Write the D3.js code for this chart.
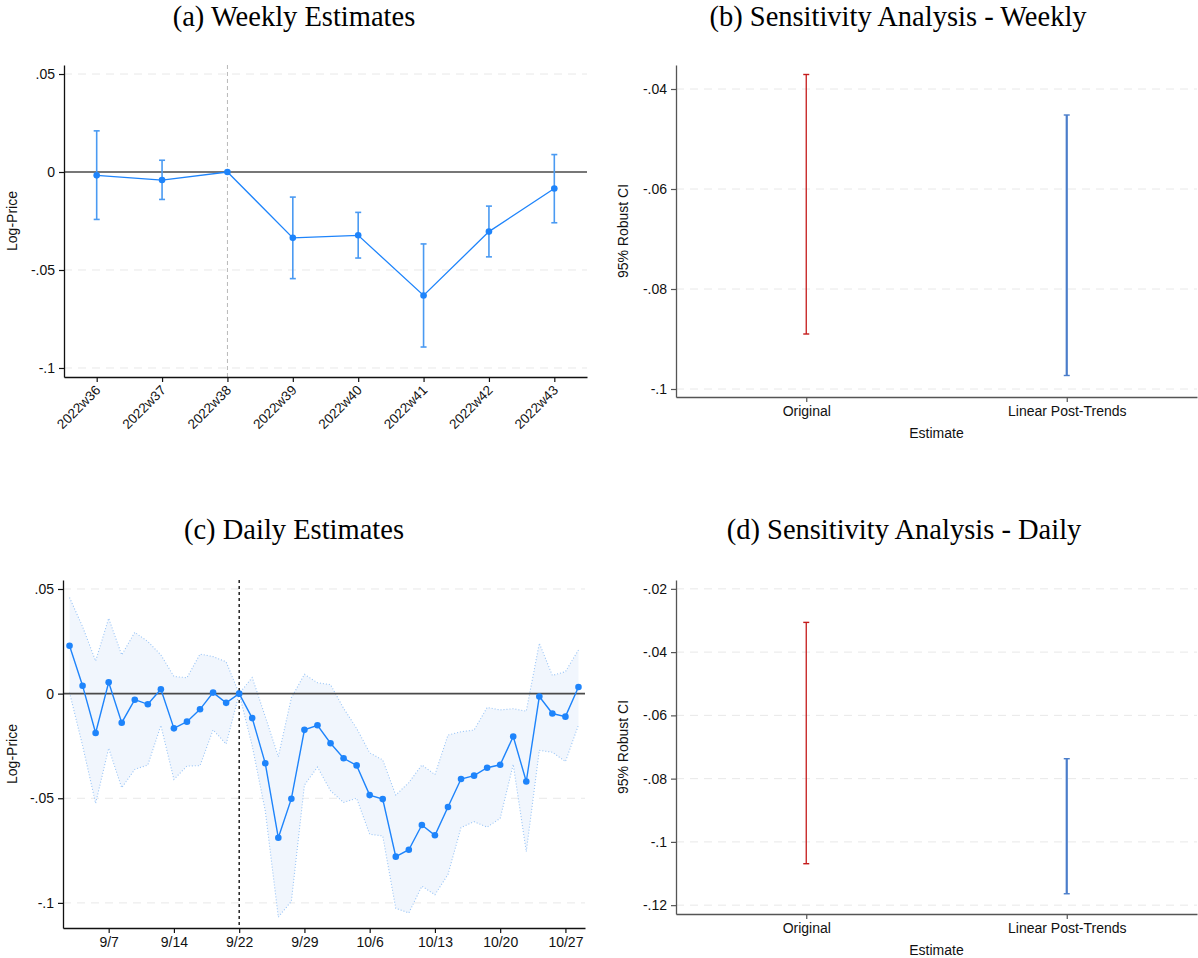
<!DOCTYPE html>
<html><head><meta charset="utf-8">
<script src="https://cdn.jsdelivr.net/npm/d3@7"></script>
<style>body{margin:0;background:#fff}</style>
</head><body>
<svg id="chart" width="1198" height="958"></svg>
<script>
// ---------- DATA ----------
const weeks = ["2022w36","2022w37","2022w38","2022w39","2022w40","2022w41","2022w42","2022w43"];
const weeklyEst = [-0.0017,-0.0041,0,-0.0336,-0.0323,-0.0630,-0.0304,-0.0084];
const weeklyLo  = [-0.0242,-0.0140,null,-0.0544,-0.0439,-0.0893,-0.0433,-0.0259];
const weeklyHi  = [0.0210,0.0060,null,-0.0128,-0.0206,-0.0367,-0.0174,0.0089];
const weeklyYTicks = [0.05,0,-0.05,-0.1];
const weeklyEventIdx = 2;

const dailyEst = [0.0229,0.0038,-0.0188,0.0054,-0.0139,-0.0029,-0.0051,0.0021,-0.0166,-0.0134,
  -0.0075,0.0005,-0.0044,0,-0.0117,-0.0333,-0.0689,-0.0502,-0.0173,-0.0151,
  -0.0237,-0.0309,-0.0343,-0.0485,-0.0504,-0.0779,-0.0746,-0.0628,-0.0677,-0.0542,
  -0.0408,-0.0392,-0.0354,-0.0340,-0.0205,-0.0420,-0.0014,-0.0095,-0.0110,0.0032];
const dailyHi = [0.0459,0.0320,0.0156,0.0360,0.0185,0.0293,0.0249,0.0185,0.0082,0.0076,
  0.0189,0.0177,0.0152,0,0.0077,-0.0110,-0.0301,-0.0020,0.0092,0.0052,
  0.0043,-0.0070,-0.0166,-0.0283,-0.0317,-0.0485,-0.0425,-0.0341,-0.0387,-0.0198,
  -0.0182,-0.0174,-0.0066,-0.0078,-0.0072,-0.0084,0.0241,0.0087,0.0105,0.0209];
const dailyLo = [0.0005,-0.0248,-0.0524,-0.0261,-0.0450,-0.0362,-0.0341,-0.0152,-0.0410,-0.0346,
  -0.0344,-0.0173,-0.0241,0,-0.0250,-0.0560,-0.1068,-0.0992,-0.0437,-0.0351,
  -0.0464,-0.0520,-0.0500,-0.0672,-0.0680,-0.1026,-0.1048,-0.0920,-0.0961,-0.0864,
  -0.0640,-0.0612,-0.0638,-0.0596,-0.0338,-0.0755,-0.0271,-0.0280,-0.0325,-0.0150];
const dailyTickIdx = [3,8,13,18,23,28,33,38];
const dailyTickLabels = ["9/7","9/14","9/22","9/29","10/6","10/13","10/20","10/27"];
const dailyYTicks = [0.05,0,-0.05,-0.1];
const dailyEventIdx = 13;

const sensCats = ["Original","Linear Post-Trends"];
const sensWeeklyLo = [-0.0890,-0.0973];
const sensWeeklyHi = [-0.0371,-0.0452];
const sensWeeklyYTicks = [-0.04,-0.06,-0.08,-0.1];
const sensDailyLo = [-0.1069,-0.1164];
const sensDailyHi = [-0.0306,-0.0737];
const sensDailyYTicks = [-0.02,-0.04,-0.06,-0.08,-0.1,-0.12];

const titles = ["(a) Weekly Estimates","(b) Sensitivity Analysis - Weekly","(c) Daily Estimates","(d) Sensitivity Analysis - Daily"];

// ---------- DRAW ----------
const svg = d3.select("#chart");
const SANS = "'Liberation Sans', Arial, Helvetica, sans-serif";
const SERIF = "'Liberation Serif', 'Times New Roman', serif";
const BLUE = "#1e84fb", CIBLUE = "#4a9af2";

function fmt(v){ if (Math.abs(v)<1e-12) return "0"; const s=(+v.toFixed(4)).toString(); return s.replace(/^(-?)0\./,"$1."); }

function title(text,cx,y){
  svg.append("text").attr("x",cx).attr("y",y).attr("text-anchor","middle")
    .style("font-family",SERIF).style("font-size","28.5px").attr("fill","#000").text(text);
}

function frame(box, y, yticks, skipZeroGrid){
  const g = svg.append("g");
  g.selectAll("line.grid").data(yticks.filter(t=>!(skipZeroGrid && t===0))).enter().append("line")
    .attr("x1",box.x0).attr("x2",box.x1).attr("y1",d=>y(d)).attr("y2",d=>y(d))
    .attr("stroke","#e8e8e8").attr("stroke-width",1).attr("stroke-dasharray","8,6");
  return g;
}

function styleAxis(sel, color){
  sel.selectAll("path.domain").attr("stroke",color).attr("stroke-width",1.3);
  sel.selectAll(".tick line").attr("stroke",color).attr("stroke-width",1.2);
  sel.selectAll(".tick text").style("font-family",SANS).style("font-size","14px").attr("fill","#111");
}

function yTitle(text, x, cy){
  svg.append("text").attr("transform",`translate(${x},${cy}) rotate(-90)`).attr("text-anchor","middle")
    .attr("dy","0.35em").style("font-family",SANS).style("font-size","14px").attr("fill","#111").text(text);
}

// ===== Panel (a) =====
(function(){
  const box={x0:64,x1:587,y0:65,y1:377};
  const x=d3.scaleLinear().domain([-0.5,weeks.length-0.5]).range([box.x0,box.x1]);
  const y=d3.scaleLinear().domain([-0.1046,0.0546]).range([box.y1,box.y0]);
  frame(box,y,weeklyYTicks,true);
  svg.append("line").attr("x1",x(weeklyEventIdx)).attr("x2",x(weeklyEventIdx)).attr("y1",box.y0).attr("y2",box.y1)
    .attr("stroke","#b8b8b8").attr("stroke-width",1).attr("stroke-dasharray","4,3");
  svg.append("line").attr("x1",box.x0).attr("x2",box.x1).attr("y1",y(0)).attr("y2",y(0))
    .attr("stroke","#4a4a4a").attr("stroke-width",1.6);
  const idx=d3.range(weeks.length).filter(i=>weeklyLo[i]!==null);
  const ci=svg.append("g").attr("stroke",CIBLUE).attr("stroke-width",1.6);
  idx.forEach(i=>{
    ci.append("line").attr("x1",x(i)).attr("x2",x(i)).attr("y1",y(weeklyLo[i])).attr("y2",y(weeklyHi[i]));
    ci.append("line").attr("x1",x(i)-3).attr("x2",x(i)+3).attr("y1",y(weeklyLo[i])).attr("y2",y(weeklyLo[i]));
    ci.append("line").attr("x1",x(i)-3).attr("x2",x(i)+3).attr("y1",y(weeklyHi[i])).attr("y2",y(weeklyHi[i]));
  });
  svg.append("path").datum(weeklyEst).attr("fill","none").attr("stroke",BLUE).attr("stroke-width",1.3)
    .attr("d",d3.line().x((d,i)=>x(i)).y(d=>y(d)));
  svg.append("g").selectAll("circle").data(weeklyEst).enter().append("circle")
    .attr("cx",(d,i)=>x(i)).attr("cy",d=>y(d)).attr("r",3.3).attr("fill",BLUE);
  const ya=svg.append("g").attr("transform",`translate(${box.x0},0)`)
    .call(d3.axisLeft(y).tickValues(weeklyYTicks).tickFormat(fmt).tickSize(5).tickPadding(4).tickSizeOuter(0));
  styleAxis(ya,"#111");
  const xa=svg.append("g").attr("transform",`translate(0,${box.y1})`)
    .call(d3.axisBottom(x).tickValues(d3.range(weeks.length)).tickFormat(i=>weeks[i]).tickSize(5).tickSizeOuter(0));
  styleAxis(xa,"#111");
  xa.selectAll(".tick text").style("font-size","13.5px").attr("text-anchor","end")
    .attr("transform","translate(-4,3) rotate(-45)").attr("dy","0.71em").attr("y",4).attr("x",-2);
  yTitle("Log-Price",12,(box.y0+box.y1)/2);
})();

// ===== Panel (c) =====
(function(){
  const box={x0:63,x1:585,y0:580,y1:928};
  const x=d3.scaleLinear().domain([-0.5,dailyEst.length-0.5]).range([box.x0,box.x1]);
  const y=d3.scaleLinear().domain([-0.112,0.0543]).range([box.y1,box.y0]);
  frame(box,y,dailyYTicks,true);
  const idx=d3.range(dailyEst.length);
  svg.append("path").datum(idx).attr("fill","#f1f6fd")
    .attr("d",d3.area().x(i=>x(i)).y0(i=>y(dailyLo[i])).y1(i=>y(dailyHi[i])));
  const dl=d3.line().x(d=>d[0]).y(d=>d[1]);
  [dailyLo,dailyHi].forEach(arr=>{
    svg.append("path").datum(idx.map(i=>[x(i),y(arr[i])])).attr("fill","none").attr("stroke","#98c4f6")
      .attr("stroke-width",1.1).attr("stroke-dasharray","1,2").attr("d",dl);
  });
  svg.append("line").attr("x1",box.x0).attr("x2",box.x1).attr("y1",y(0)).attr("y2",y(0))
    .attr("stroke","#4a4a4a").attr("stroke-width",1.6);
  svg.append("line").attr("x1",x(dailyEventIdx)).attr("x2",x(dailyEventIdx)).attr("y1",box.y0).attr("y2",box.y1)
    .attr("stroke","#000").attr("stroke-width",1.3).attr("stroke-dasharray","3,3");
  svg.append("path").datum(dailyEst).attr("fill","none").attr("stroke",BLUE).attr("stroke-width",1.4)
    .attr("d",d3.line().x((d,i)=>x(i)).y(d=>y(d)));
  svg.append("g").selectAll("circle").data(dailyEst).enter().append("circle")
    .attr("cx",(d,i)=>x(i)).attr("cy",d=>y(d)).attr("r",3.3).attr("fill",BLUE);
  const ya=svg.append("g").attr("transform",`translate(${box.x0},0)`)
    .call(d3.axisLeft(y).tickValues(dailyYTicks).tickFormat(fmt).tickSize(5).tickPadding(4).tickSizeOuter(0));
  styleAxis(ya,"#111");
  const xa=svg.append("g").attr("transform",`translate(0,${box.y1})`)
    .call(d3.axisBottom(x).tickValues(dailyTickIdx).tickFormat((d,k)=>dailyTickLabels[k]).tickSize(5).tickPadding(4).tickSizeOuter(0));
  styleAxis(xa,"#111");
  yTitle("Log-Price",12,(box.y0+box.y1)/2);
})();

// ===== Sensitivity panels =====
function sens(box, lo, hi, ticks, domain){
  const x=d3.scaleLinear().domain([-0.5,sensCats.length-0.5]).range([box.x0,box.x1]);
  const y=d3.scaleLinear().domain(domain).range([box.y1,box.y0]);
  frame(box,y,ticks,false);
  const cols=["#c41a1a","#4a7dca"], widths=[1.3,2.2];
  sensCats.forEach((c,i)=>{
    const g=svg.append("g").attr("stroke",cols[i]).attr("stroke-width",widths[i]);
    g.append("line").attr("x1",x(i)).attr("x2",x(i)).attr("y1",y(lo[i])).attr("y2",y(hi[i]));
    g.append("line").attr("x1",x(i)-3).attr("x2",x(i)+3).attr("y1",y(lo[i])).attr("y2",y(lo[i])).attr("stroke-width",1.4);
    g.append("line").attr("x1",x(i)-3).attr("x2",x(i)+3).attr("y1",y(hi[i])).attr("y2",y(hi[i])).attr("stroke-width",1.4);
  });
  const ya=svg.append("g").attr("transform",`translate(${box.x0},0)`)
    .call(d3.axisLeft(y).tickValues(ticks).tickFormat(fmt).tickSize(5).tickPadding(4).tickSizeOuter(0));
  styleAxis(ya,"#555");
  const xa=svg.append("g").attr("transform",`translate(0,${box.y1})`)
    .call(d3.axisBottom(x).tickValues(d3.range(sensCats.length)).tickFormat(i=>sensCats[i]).tickSize(5).tickPadding(4).tickSizeOuter(0));
  styleAxis(xa,"#555");
  yTitle("95% Robust CI",623,(box.y0+box.y1)/2);
  svg.append("text").attr("x",(box.x0+box.x1)/2).attr("y",box.y1+41).attr("text-anchor","middle")
    .style("font-family",SANS).style("font-size","14px").attr("fill","#111").text("Estimate");
}
sens({x0:676,x1:1197,y0:65,y1:397}, sensWeeklyLo, sensWeeklyHi, sensWeeklyYTicks, [-0.1016,-0.0352]);
sens({x0:676,x1:1197,y0:580,y1:914}, sensDailyLo, sensDailyHi, sensDailyYTicks, [-0.1228,-0.0172]);

title(titles[0],294,26);
title(titles[1],898,26);
title(titles[2],294,539);
title(titles[3],904,539);
</script>
</body></html>
